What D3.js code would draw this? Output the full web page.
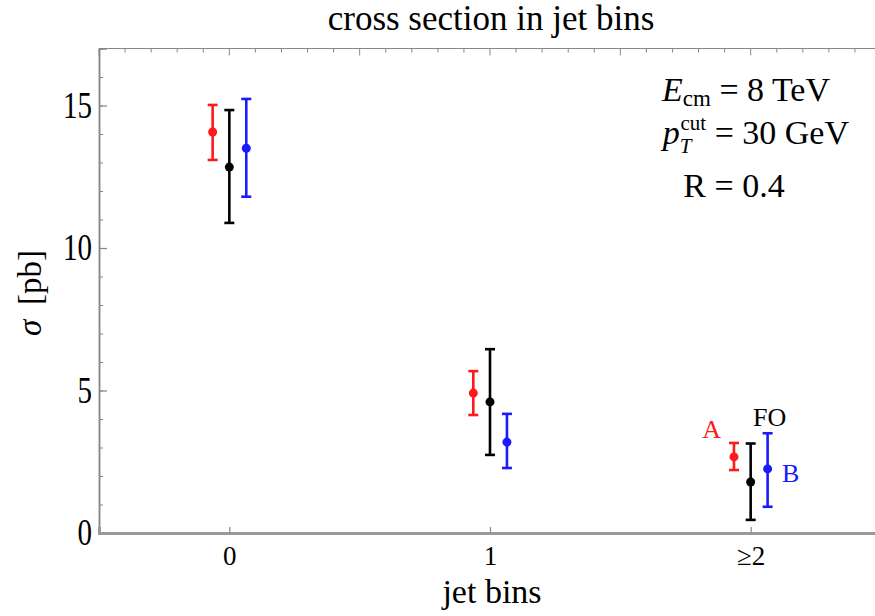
<!DOCTYPE html>
<html>
<head>
<meta charset="utf-8">
<script src="https://d3js.org/d3.v7.min.js"></script>
<style>
  body { margin: 0; background: #fff; }
  text { font-family: "Liberation Serif", "DejaVu Serif", serif; }
</style>
</head>
<body>
<svg id="vis"></svg>
<script>
	// jet bins and the three predictions (value, lower, upper) in pb
	const bins = [0, 1, 2];
	const binLabels = ["0", "1", "\u22652"];
	const seriesNames = ["A", "FO", "B"];
	const seriesColors = ["#ff1a1a", "#000000", "#1a1aff"];

	const centralA = [14.07, 4.91, 2.67];
	const lowA = [13.09, 4.14, 2.21];
	const highA = [15.02, 5.68, 3.16];

	const centralFO = [12.84, 4.60, 1.79];
	const lowFO = [10.88, 2.74, 0.46];
	const highFO = [14.84, 6.45, 3.14];

	const centralB = [13.50, 3.19, 2.25];
	const lowB = [11.80, 2.28, 0.92];
	const highB = [15.23, 4.18, 3.50];

	const yMajor = [0, 5, 10, 15];

	const W = 875, H = 616;
	const svg = d3.select('#vis').attr('width', W).attr('height', H);

	const x = d3.scaleLinear().domain([-0.5, 2.5]).range([99, 881]);
	const y = d3.scaleLinear().domain([0, 17]).range([533, 48.5]);

	const axisColor = '#888';

	// frame: top line with fine ticks
	svg.append('line')
		.attr('x1', x(-0.5)).attr('x2', x(2.5))
		.attr('y1', y(17)).attr('y2', y(17))
		.attr('stroke', axisColor).attr('stroke-width', 1.2);

	const topTicks = d3.range(-5, 26).map(d => d / 10);
	svg.selectAll('.ttick')
		.data(topTicks)
		.enter().append('line')
		.attr('x1', d => x(d)).attr('x2', d => x(d))
		.attr('y1', y(17))
		.attr('y2', (d, i) => y(17) + (i % 5 === 0 ? 7 : 4))
		.attr('stroke', axisColor).attr('stroke-width', 1);

	// left axis
	const gy = svg.append('g').attr('transform', `translate(${x(-0.5)},0)`);
	gy.call(d3.axisLeft(y).tickValues(d3.range(0, 18)).tickSize(-4).tickFormat(''));
	gy.call(g => g.selectAll('.tick line').attr('stroke', axisColor));
	const gy2 = svg.append('g').attr('transform', `translate(${x(-0.5)},0)`);
	gy2.call(d3.axisLeft(y).tickValues(yMajor).tickSize(-8).tickPadding(7).tickFormat(d3.format('d')));
	gy2.selectAll('.tick text').attr('font-size', 29).attr('fill', '#000')
		.attr('transform', 'scale(1,1.28)')
		.attr('font-family', '"Liberation Serif", serif');
	svg.selectAll('.domain').attr('stroke', axisColor).attr('stroke-width', 1.5);
	gy2.selectAll('.tick line').attr('stroke', axisColor).attr('stroke-width', 1.2);

	// bottom axis
	const gx = svg.append('g').attr('transform', `translate(0,${y(0)})`);
	gx.call(d3.axisBottom(x).tickValues(bins).tickSize(-6).tickPadding(13)
		.tickFormat((d, i) => binLabels[i]));
	gx.select('.domain').attr('stroke', '#999').attr('stroke-width', 3);
	gx.selectAll('.tick line').attr('stroke', axisColor).attr('stroke-width', 1.2);
	gx.selectAll('.tick text').attr('font-size', 27).attr('fill', '#000')
		.attr('font-family', '"Liberation Serif", serif');

	// titles
	svg.append('text').attr('x', 491).attr('y', 30).attr('text-anchor', 'middle')
		.attr('font-size', 35).text('cross section in jet bins');
	svg.append('text').attr('x', 492).attr('y', 603).attr('text-anchor', 'middle')
		.attr('font-size', 34).text('jet bins');
	const yl = svg.append('text').attr('transform', 'translate(41,293) rotate(-90)')
		.attr('text-anchor', 'middle').attr('font-size', 33);
	yl.append('tspan').attr('font-style', 'italic').text('\u03c3');
	yl.append('tspan').text('\u2009 [pb]');

	// error bars
	const series = [
		{ c: centralA, lo: lowA, hi: highA },
		{ c: centralFO, lo: lowFO, hi: highFO },
		{ c: centralB, lo: lowB, hi: highB }
	];
	const offsets = [-0.064, 0, 0.065];
	const cap = 5;

	series.forEach((s, k) => {
		const g = svg.append('g').attr('stroke', seriesColors[k]).attr('fill', seriesColors[k]);
		const px = i => x(bins[i] + offsets[k]);
		g.selectAll('.bar').data(bins).enter().append('line')
			.attr('x1', (d, i) => px(i)).attr('x2', (d, i) => px(i))
			.attr('y1', (d, i) => y(s.lo[i])).attr('y2', (d, i) => y(s.hi[i]))
			.attr('stroke-width', 2.6);
		g.selectAll('.capl').data(bins).enter().append('line')
			.attr('x1', (d, i) => px(i) - cap).attr('x2', (d, i) => px(i) + cap)
			.attr('y1', (d, i) => y(s.lo[i])).attr('y2', (d, i) => y(s.lo[i]))
			.attr('stroke-width', 2.6);
		g.selectAll('.caph').data(bins).enter().append('line')
			.attr('x1', (d, i) => px(i) - cap).attr('x2', (d, i) => px(i) + cap)
			.attr('y1', (d, i) => y(s.hi[i])).attr('y2', (d, i) => y(s.hi[i]))
			.attr('stroke-width', 2.6);
		g.selectAll('circle').data(bins).enter().append('circle')
			.attr('cx', (d, i) => px(i)).attr('cy', (d, i) => y(s.c[i]))
			.attr('r', 4.5).attr('stroke', 'none');
	});

	// series labels near the ≥2 bin
	const labelPos = [[-0.15, 3.33], [0.073, 3.75], [0.153, 1.79]];
	seriesNames.forEach((n, k) => {
		svg.append('text')
			.attr('x', x(bins[2] + labelPos[k][0]))
			.attr('y', y(labelPos[k][1]))
			.attr('text-anchor', 'middle')
			.attr('font-size', 26)
			.attr('fill', seriesColors[k])
			.text(n);
	});

	// parameter box
	const info = svg.append('g').attr('font-size', 34);
	const t1 = info.append('text').attr('x', 830).attr('y', 101).attr('text-anchor', 'end');
	t1.append('tspan').attr('font-style', 'italic').text('E');
	t1.append('tspan').attr('font-size', 23).attr('dy', 5).text('cm');
	t1.append('tspan').attr('dy', -5).text(' = 8 TeV');

	const t2 = info.append('text').attr('x', 849).attr('y', 144).attr('text-anchor', 'end');
	t2.append('tspan').attr('font-style', 'italic').text('p');
	t2.append('tspan').attr('font-size', 21).attr('font-style', 'italic').attr('dy', 9).text('T');
	t2.append('tspan').attr('font-size', 21).attr('dx', -11).attr('dy', -23).text('cut');
	t2.append('tspan').attr('dy', 14).text(' = 30 GeV');

	info.append('text').attr('x', 734).attr('y', 197).attr('text-anchor', 'middle').text('R = 0.4');
</script>
</body>
</html>
